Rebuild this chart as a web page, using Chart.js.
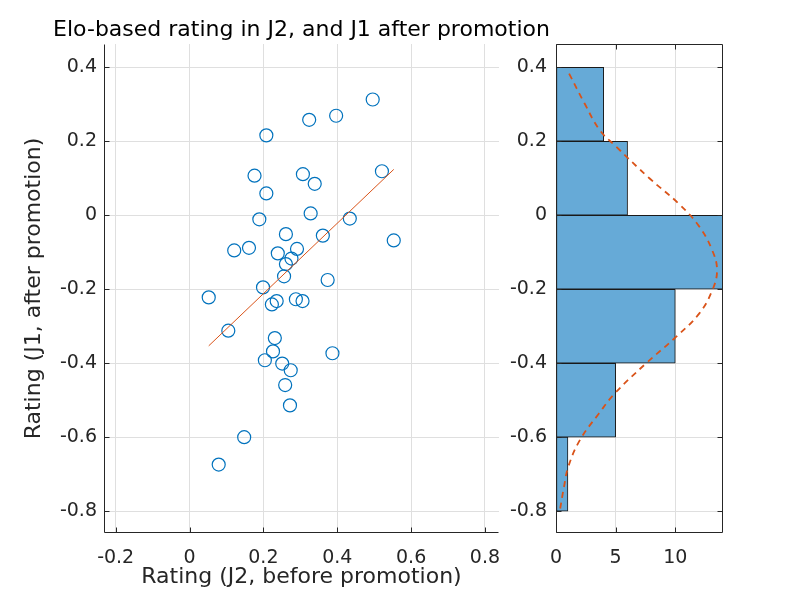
<!DOCTYPE html>
<html>
<head>
<meta charset="utf-8">
<script src="https://cdn.jsdelivr.net/npm/chart.js@4"></script>
<style>
  html, body { margin: 0; padding: 0; background: #fff; }
  #wrap { position: relative; width: 800px; height: 600px; }
  #wrap canvas { position: absolute; top: 0; }
</style>
</head>
<body>
<div id="wrap">
  <canvas id="scatterCanvas" width="603" height="600" style="left:0"></canvas>
  <canvas id="histCanvas" width="300" height="600" style="left:500px"></canvas>
</div>
<script>
// ratings, one entry per club
const j2Rating = [0.496, 0.397, 0.324, 0.208, 0.176, 0.307, 0.339, 0.521, 0.208, 0.328,
                  0.189, 0.434, 0.261, 0.361, 0.553, 0.121, 0.161, 0.239, 0.291, 0.276,
                  0.261, 0.256, 0.374, 0.199, 0.052, 0.236, 0.223, 0.288, 0.306, 0.105,
                  0.231, 0.226, 0.387, 0.204, 0.251, 0.274, 0.259, 0.272, 0.148, 0.079];
const j1Rating = [0.313, 0.269, 0.258, 0.216, 0.107, 0.111, 0.085, 0.119, 0.059, 0.005,
                  -0.011, -0.009, -0.051, -0.055, -0.068, -0.095, -0.088, -0.103, -0.091, -0.117,
                  -0.132, -0.165, -0.175, -0.195, -0.222, -0.232, -0.241, -0.227, -0.232, -0.312,
                  -0.332, -0.368, -0.373, -0.392, -0.401, -0.419, -0.459, -0.514, -0.600, -0.674];

// least squares line end points
const fitX = [0.052, 0.553];
const fitY = [-0.353, 0.124];

// histogram of J1 rating
const binEdges = [-0.8, -0.6, -0.4, -0.2, 0, 0.2, 0.4];
const binCounts = [1, 5, 10, 14, 6, 4];

// fitted normal curve (dashed)
const curveRating = [0.383, 0.302, 0.23, 0.185, 0.10, 0.03, -0.03, -0.095, -0.149, -0.203,
                     -0.266, -0.329, -0.40, -0.482, -0.536, -0.608, -0.68, -0.734, -0.797];
const curveCount = [1.1, 2.4, 3.67, 5.06, 7.83, 10.33, 12.0, 13.1, 13.5, 13.1,
                    12.0, 10.06, 7.56, 4.92, 3.6, 2.0, 1.03, 0.67, 0.33];

const ratingTicks = [-0.8, -0.6, -0.4, -0.2, 0, 0.2, 0.4];
const j2Ticks = [-0.2, 0, 0.2, 0.4, 0.6, 0.8];
const countTicks = [0, 5, 10];

const titleText = 'Elo-based rating in J2, and J1 after promotion';

const yMin = -0.859, yMax = 0.463;
const xMin = -0.2316, xMax = 0.838;

const AXIS = '#262626';
const GRID = '#dfdfdf';
const FONT = 'DejaVu Sans';

Chart.defaults.font.family = FONT;
Chart.defaults.color = AXIS;

function fmt(v) {
  const r = Math.round(v * 10) / 10;
  return r === 0 ? '0' : String(r);
}

// MATLAB-like axes: dark axis lines and short ticks pointing inward
const matlabAxes = {
  id: 'matlabAxes',
  afterDatasetsDraw(chart, args, opts) {
    const { ctx, chartArea: a, scales } = chart;
    const L = Math.round(a.left) + 0.5, R = Math.round(a.right) - 0.5;
    const T = Math.round(a.top) + 0.5, B = Math.round(a.bottom) - 0.5;
    const len = 5;
    ctx.save();
    ctx.strokeStyle = AXIS;
    ctx.lineWidth = 1;
    ctx.beginPath();
    ctx.moveTo(L, T); ctx.lineTo(L, B); ctx.lineTo(R, B);
    if (opts.box) { ctx.lineTo(R, T); ctx.lineTo(L, T); }
    scales.x.ticks.forEach(t => {
      const px = Math.round(scales.x.getPixelForValue(t.value)) + 0.5;
      ctx.moveTo(px, B); ctx.lineTo(px, B - len);
      if (opts.box) { ctx.moveTo(px, T); ctx.lineTo(px, T + len); }
    });
    scales.y.ticks.forEach(t => {
      const py = Math.round(scales.y.getPixelForValue(t.value)) + 0.5;
      ctx.moveTo(L, py); ctx.lineTo(L + len, py);
      if (opts.box) { ctx.moveTo(R, py); ctx.lineTo(R - len, py); }
    });
    ctx.stroke();
    ctx.restore();
  }
};

// title centred over the plot area, like an axes title
const axesTitle = {
  id: 'axesTitle',
  afterDraw(chart, args, opts) {
    if (!opts.text) return;
    const { ctx, chartArea: a } = chart;
    ctx.save();
    ctx.font = `${opts.size}px "${FONT}"`;
    ctx.fillStyle = '#000';
    ctx.textAlign = 'center';
    ctx.textBaseline = 'alphabetic';
    ctx.fillText(opts.text, (a.left + a.right) / 2, opts.baseline);
    ctx.restore();
  }
};

function fixedTicks(list) {
  return function (scale) {
    scale.ticks = list.map(v => ({ value: v }));
  };
}

// left: scatter with fit line
new Chart(document.getElementById('scatterCanvas'), {
  type: 'scatter',
  data: {
    datasets: [
      {
        label: 'fit',
        data: fitX.map((x, i) => ({ x, y: fitY[i] })),
        showLine: true,
        borderColor: '#D95319',
        borderWidth: 1,
        pointRadius: 0,
        order: 0
      },
      {
        label: 'clubs',
        data: j2Rating.map((x, i) => ({ x, y: j1Rating[i] })),
        pointStyle: 'circle',
        pointRadius: 6.5,
        borderColor: '#0072BD',
        backgroundColor: 'rgba(0,0,0,0)',
        borderWidth: 1.2,
        order: 1
      }
    ]
  },
  plugins: [matlabAxes, axesTitle],
  options: {
    responsive: false,
    animation: false,
    events: [],
    layout: { padding: { left: 0, top: 44, right: 104, bottom: 0 } },
    plugins: {
      legend: { display: false },
      tooltip: { enabled: false },
      title: { display: false },
      axesTitle: { text: titleText, size: 22, baseline: 36 },
      matlabAxes: { box: false }
    },
    scales: {
      x: {
        type: 'linear',
        min: xMin, max: xMax,
        afterBuildTicks: fixedTicks(j2Ticks),
        afterFit(scale) { scale.height = 67; },
        grid: { color: GRID, drawTicks: false },
        border: { display: false },
        ticks: { padding: 14, font: { size: 19 }, callback: fmt, maxRotation: 0 },
        title: {
          display: true,
          text: 'Rating (J2, before promotion)',
          font: { size: 22 },
          padding: { top: 0, bottom: 10 }
        }
      },
      y: {
        type: 'linear',
        min: yMin, max: yMax,
        afterBuildTicks: fixedTicks(ratingTicks),
        afterFit(scale) { scale.width = 104; },
        grid: { color: GRID, drawTicks: false },
        border: { display: false },
        ticks: { padding: 7, font: { size: 19 }, callback: fmt },
        title: {
          display: true,
          text: 'Rating (J1, after promotion)',
          font: { size: 22 },
          padding: { top: 21, bottom: 0 }
        }
      }
    }
  }
});

// right: horizontal histogram with normal fit
new Chart(document.getElementById('histCanvas'), {
  type: 'bar',
  data: {
    datasets: [
      {
        type: 'scatter',
        label: 'normal fit',
        data: curveCount.map((x, i) => ({ x, y: curveRating[i] })),
        showLine: true,
        borderColor: '#D95319',
        borderWidth: 1.8,
        borderDash: [6, 5],
        pointRadius: 0,
        tension: 0.4,
        order: 0
      },
      {
        type: 'bar',
        label: 'count',
        indexAxis: 'y',
        data: binCounts.map((c, i) => ({ x: c, y: (binEdges[i] + binEdges[i + 1]) / 2 })),
        backgroundColor: 'rgb(102,170,215)',
        borderColor: '#1a1a1a',
        borderWidth: 1,
        borderSkipped: false,
        categoryPercentage: 1,
        barPercentage: 1,
        order: 1
      }
    ]
  },
  plugins: [matlabAxes],
  options: {
    responsive: false,
    animation: false,
    events: [],
    indexAxis: 'y',
    layout: { padding: { left: 0, top: 44, right: 77, bottom: 0 } },
    plugins: {
      legend: { display: false },
      tooltip: { enabled: false },
      matlabAxes: { box: true }
    },
    scales: {
      x: {
        type: 'linear',
        position: 'bottom',
        min: 0, max: 14,
        afterBuildTicks: fixedTicks(countTicks),
        afterFit(scale) { scale.height = 67; },
        grid: { color: GRID, drawTicks: false, offset: false },
        border: { display: false },
        ticks: { padding: 14, font: { size: 19 }, maxRotation: 0 }
      },
      y: {
        type: 'linear',
        position: 'left',
        offset: false,
        min: yMin, max: yMax,
        afterBuildTicks: fixedTicks(ratingTicks),
        afterFit(scale) { scale.width = 56; },
        grid: { color: GRID, drawTicks: false, offset: false },
        border: { display: false },
        ticks: { padding: 9, font: { size: 19 }, callback: fmt }
      }
    }
  }
});
</script>
</body>
</html>
